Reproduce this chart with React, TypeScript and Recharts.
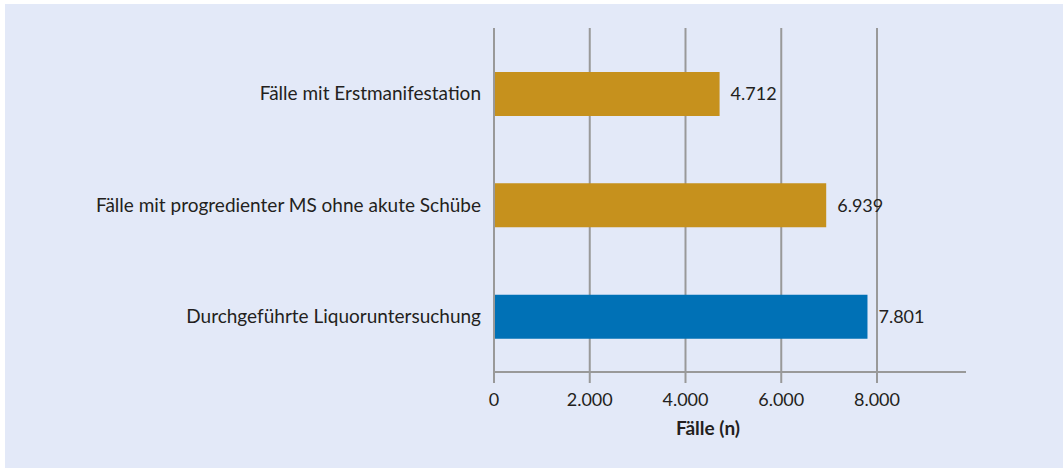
import React from "react";
import {
  BarChart,
  Bar,
  XAxis,
  YAxis,
  CartesianGrid,
  Cell,
  LabelList,
  Label,
} from "recharts";

const categories = [
  "Fälle mit Erstmanifestation",
  "Fälle mit progredienter MS ohne akute Schübe",
  "Durchgeführte Liquoruntersuchung",
];
const cases = [4712, 6939, 7801];
const xTicks = [0, 2000, 4000, 6000, 8000];
const highlighted = "Durchgeführte Liquoruntersuchung";

const data = categories.map((name, i) => ({ name, value: cases[i] }));

const FONT = "Lato, 'Open Sans', sans-serif";
const TEXT = "#231f20";
const GRID = "#999999";

function fmt(v: number) {
  return String(v).replace(/\B(?=(\d{3})+(?!\d))/g, ".");
}

export default function App() {
  return (
    <div
      style={{
        position: "absolute",
        left: 0,
        top: 0,
        width: 1063,
        height: 468,
        background: "#ffffff",
        overflow: "hidden",
      }}
    >
      <div
        style={{
          position: "absolute",
          left: 5,
          top: 4,
          right: 0,
          bottom: 0,
          background: "#e3e9f8",
        }}
      />
      <div style={{ position: "absolute", left: 0, top: 0 }}>
        <BarChart
          width={1063}
          height={468}
          data={data}
          layout="vertical"
          margin={{ top: 28, right: 97, left: 0, bottom: 0 }}
        >
          <CartesianGrid
            horizontal={false}
            verticalValues={xTicks}
            stroke={GRID}
            strokeWidth={2}
          />
          <XAxis
            type="number"
            domain={[0, 8000]}
            ticks={xTicks}
            padding={{ left: 0, right: 89 }}
            height={96}
            tickFormatter={fmt}
            axisLine={{ stroke: GRID, strokeWidth: 2 }}
            tickLine={{ stroke: GRID, strokeWidth: 2 }}
            tickSize={11}
            tickMargin={10}
            tick={{ fontSize: 18, fill: TEXT, fontFamily: FONT }}
          >
            <Label
              value="Fälle (n)"
              position="insideTop"
              offset={50}
              dx={-22}
              style={{ fontSize: 19, fontWeight: 700, fill: TEXT, fontFamily: FONT }}
            />
          </XAxis>
          <YAxis
            type="category"
            dataKey="name"
            width={494}
            padding={{ top: 10, bottom: 0 }}
            axisLine={{ stroke: GRID, strokeWidth: 2 }}
            tickLine={false}
            tickSize={0}
            tickMargin={13}
            tick={{ fontSize: 19, fill: TEXT, fontFamily: FONT }}
          />
          <Bar dataKey="value" barSize={44} isAnimationActive={false}>
            {data.map((d) => (
              <Cell key={d.name} fill={d.name === highlighted ? "#0071b6" : "#c6911d"} />
            ))}
            <LabelList
              dataKey="value"
              position="right"
              offset={11}
              formatter={(v: any) => fmt(Number(v))}
              style={{ fontSize: 18, fill: TEXT, fontFamily: FONT }}
            />
          </Bar>
        </BarChart>
      </div>
    </div>
  );
}
